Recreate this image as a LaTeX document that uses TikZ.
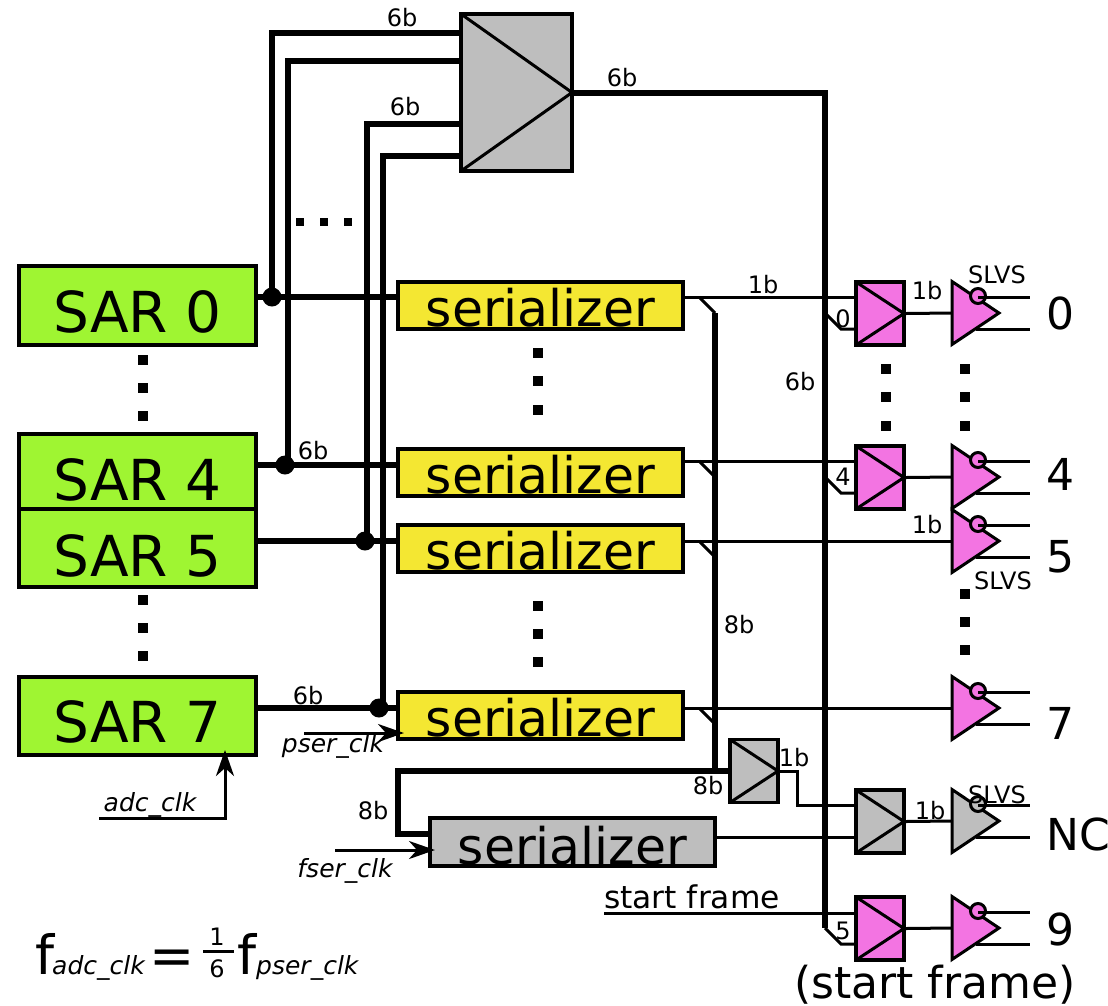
\documentclass[tikz,border=0pt]{standalone}
\usepackage{fontspec}
\setmainfont{DejaVu Sans}
\usetikzlibrary{arrows.meta,shapes.geometric}
\definecolor{sarfill}{HTML}{9FF532}
\definecolor{serfill}{HTML}{F4E732}
\definecolor{pinkfill}{HTML}{F374E2}
\definecolor{grayfill}{HTML}{BEBEBE}
\tikzset{
  wire/.style={line width=3pt},
  bus/.style={line width=6pt},
  clkarrow/.style={line width=3pt,-{Stealth[length=26pt,width=18pt,inset=8pt]}},
  dot/.style={circle,fill=black,draw=none,minimum size=19pt,inner sep=0pt},
  square/.style={rectangle,fill=black,draw=none,minimum size=10pt,inner sep=0pt},
  sarbox/.style={draw,line width=3.5pt,fill=sarfill,minimum width=237pt,minimum height=79pt,
    inner sep=0pt,text height=53pt,text depth=0pt,font=\fontsize{56.5}{60}\selectfont},
  serbox/.style={draw,line width=3.5pt,fill=serfill,minimum width=285pt,minimum height=47pt,
    inner sep=0pt,text height=41pt,text depth=0pt,font=\fontsize{50.5}{54}\selectfont},
  mux/.style={draw,line width=3.5pt,fill=pinkfill,minimum width=48pt,minimum height=63pt,inner sep=0pt,
    path picture={\draw[wire] (path picture bounding box.north west)
      -- (path picture bounding box.east) -- (path picture bounding box.south west);}},
  buf/.style={draw,line width=3pt,isosceles triangle,isosceles triangle stretches,
    minimum width=63pt,minimum height=47pt,inner sep=0pt,outer sep=0pt,anchor=lower side},
  bubble/.style={circle,draw,line width=3pt,minimum size=15pt,inner sep=0pt},
  lbl/.style={anchor=base,inner sep=0pt,font=\fontsize{24}{26}\selectfont},
  biglbl/.style={anchor=base,inner sep=0pt,font=\fontsize{44}{48}\selectfont},
  clklbl/.style={anchor=base,inner sep=0pt,font=\fontsize{25}{27}\selectfont\itshape},
  eqlbl/.style={anchor=base west,inner sep=0pt,font=\fontsize{54}{58}\selectfont},
}
\begin{document}
\begin{tikzpicture}[x=1pt,y=-1pt,line join=miter]
  \useasboundingbox (0,0) rectangle (1108,1005);

  % blocks on the left
  \node[sarbox] (sar0) at (137.5,305.5) {SAR 0};
  \node[sarbox,minimum height=75pt,text height=57pt] (sar4) at (137.5,471.5) {SAR 4};
  \node[sarbox,minimum height=78pt,text height=56pt] (sar5) at (137.5,548) {SAR 5};
  \node[sarbox,minimum height=78pt,text height=52pt] (sar7) at (137.5,716) {SAR 7};

  \node[serbox] (ser0) at (540.5,305.5) {serializer};
  \node[serbox] (ser4) at (540.5,472.5) {serializer};
  \node[serbox] (ser5) at (540.5,548.5) {serializer};
  \node[serbox] (ser7) at (540.5,715.5) {serializer};
  \node[serbox,fill=grayfill,minimum height=48pt,text height=44pt] (serf) at (572.5,842) {serializer};

  % muxes
  \node[mux,fill=grayfill,minimum width=111pt,minimum height=157pt] (muxtop) at (516.5,92.5) {};
  \node[mux,fill=grayfill] (muxb) at (754,771) {};
  \node[mux] (mux0) at (880,313.5) {};
  \node[mux] (mux4) at (880,477.5) {};
  \node[mux,fill=grayfill] (muxnc) at (880,821.5) {};
  \node[mux] (mux9) at (880,928.5) {};

  % tap points on the SAR outputs
  \node[dot] (tap0) at (272,297) {};
  \node[dot] (tap4) at (285,465) {};
  \node[dot] (tap5) at (365,541) {};
  \node[dot] (tap7) at (379,708) {};

  % 6b buses
  \draw[bus] (sar0.east |- tap0) -- (ser0.west |- tap0);
  \draw[bus] (sar4.east |- tap4) -- (ser4.west |- tap4);
  \draw[bus] (sar5.east |- tap5) -- (ser5.west |- tap5);
  \draw[bus] (sar7.east |- tap7) -- (ser7.west |- tap7);
  \draw[bus] (tap0.center) |- (muxtop.west |- 0,33);
  \draw[bus] ([xshift=3pt]tap4.center) |- (muxtop.west |- 0,61);
  \draw[bus] ([xshift=2pt]tap5.center) |- (muxtop.west |- 0,124);
  \draw[bus] ([xshift=4pt]tap7.center) |- (muxtop.west |- 0,156);
  \draw[bus] (muxtop.east) -| (825,928) coordinate (busend);

  % 8b bus
  \coordinate (bus8top) at (715,313);
  \coordinate (bus8end) at (715,771);
  \draw[bus] (bus8top) -- (bus8end);
  \draw[bus] (muxb.west) -| (398,834) -- (serf.west |- 0,834);

  % serializer outputs
  \draw[wire] (ser0.east |- tap0) -- (mux0.west |- tap0);
  \draw[wire] (ser4.east |- 0,461) -- (mux4.west |- 0,461);
  \draw[wire] (ser5.east |- tap5) -- (952,541);
  \draw[wire] (ser7.east |- tap7) -- (952,708);
  \draw[wire] (serf.east |- 0,837) -- (muxnc.west |- 0,837);
  \draw[wire] (604,913) -- (mux9.west |- 0,913);
  \draw[wire] (muxb.east) -- (797,771) -- (797,805) -- (muxnc.west |- 0,805);

  % branches into the buses
  \foreach \y in {297,461,541,708}
    \draw[wire] (699,\y) -- ++(16,16);
  \draw[wire] (825,313) -- (841,329) -- (mux0.west |- 0,329);
  \draw[wire] (825,477) -- (841,493) -- (mux4.west |- 0,493);
  \draw[wire] (busend) -- (841,944) -- (mux9.west |- 0,944);

  % output buffers
  \foreach \nm/\y/\c in {0/313/pinkfill,4/477/pinkfill,5/541/pinkfill,7/708/pinkfill,nc/821/grayfill,9/928/pinkfill}{
    \node[buf,fill=\c] (buf\nm) at (952,\y) {};
    \node[bubble,fill=\c] (bub\nm) at (978,\y-17) {};
    \draw[wire] ([yshift=-1pt]bub\nm.center) -- ++(52,0);
    \draw[wire] (976,\y+16) -- (1030,\y+16);
  }
  \draw[wire] (mux0.east) -- (buf0.lower side);
  \draw[wire] (mux4.east) -- (buf4.lower side);
  \draw[wire] (muxnc.east) -- (bufnc.lower side);
  \draw[wire] (mux9.east) -- (buf9.lower side);

  % clocks
  \coordinate (adcin) at (99,818);
  \draw[clkarrow] (adcin) -| (225,750);
  \coordinate (pserin) at (304,733);
  \draw[clkarrow] (pserin) -- (404,733);
  \coordinate (fserin) at (335,850);
  \draw[clkarrow] (fserin) -- (435,850);
  \node[clklbl] (adclbl) at (150,811) {adc\_clk};
  \node[clklbl] (pserlbl) at (333,752) {pser\_clk};
  \node[clklbl] (fserlbl) at (345,877) {fser\_clk};

  % dots
  \foreach \x in {300,324,348}
    \node[square,minimum size=8pt] (dh\x) at (\x,222) {};
  \foreach \y in {360,388,416,600,628,656}
    \node[square] (ds\y) at (143,\y) {};
  \foreach \y in {353,381,410,606,634,662}
    \node[square] (dr\y) at (538,\y) {};
  \foreach \y in {369,397,426}
    \node[square] (dm\y) at (886,\y) {};
  \foreach \y in {369,397,426,594,622,650}
    \node[square] (db\y) at (965,\y) {};

  % bit widths
  \node[lbl] (w1) at (402,26) {6b};
  \node[lbl] (w2) at (405,115) {6b};
  \node[lbl] (w3) at (622,86) {6b};
  \node[lbl] (w4) at (313,459) {6b};
  \node[lbl] (w5) at (308,704) {6b};
  \node[lbl] (w6) at (800,390) {6b};
  \node[lbl] (w7) at (763,293) {1b};
  \node[lbl] (w8) at (927,299) {1b};
  \node[lbl] (w9) at (927,533) {1b};
  \node[lbl] (w10) at (794,766) {1b};
  \node[lbl] (w11) at (930,819) {1b};
  \node[lbl] (w12) at (739,633) {8b};
  \node[lbl] (w13) at (708,794) {8b};
  \node[lbl] (w14) at (373,819) {8b};
  \node[lbl] (idx0) at (843,327) {0};
  \node[lbl] (idx4) at (843,485) {4};
  \node[lbl] (idx5) at (843,939) {5};
  \node[lbl] (slvs0) at (997,283) {SLVS};
  \node[lbl] (slvs5) at (1003,589) {SLVS};
  \node[lbl] (slvsnc) at (997,803) {SLVS};

  % output names
  \node[biglbl] (out0) at (1060,329) {0};
  \node[biglbl] (out4) at (1060,490) {4};
  \node[biglbl] (out5) at (1060,572) {5};
  \node[biglbl] (out7) at (1060,739) {7};
  \node[biglbl] (outnc) at (1078,850) {NC};
  \node[biglbl] (out9) at (1060,945) {9};
  \node[biglbl] (startlbl) at (935,998) {(start frame)};
  \node[anchor=base,inner sep=0pt,font=\fontsize{31.3}{33}\selectfont] (framelbl) at (692,908) {start frame};

  % clock ratio
  \node[eqlbl] (eqf1) at (35,974) {f};
  \node[clklbl,anchor=base west] (eqs1) at (52,974) {adc\_clk};
  \node[eqlbl,anchor=base] (eqeq) at (172,974) {=};
  \node[lbl] (eqn) at (217,945) {1};
  \node[lbl] (eqd) at (217,977) {6};
  \draw[wire] (eqn.south -| 203,0) ++(0,6) -- ++(31,0);
  \node[eqlbl] (eqf2) at (237,974) {f};
  \node[clklbl,anchor=base west] (eqs2) at (256,974) {pser\_clk};
\end{tikzpicture}
\end{document}
